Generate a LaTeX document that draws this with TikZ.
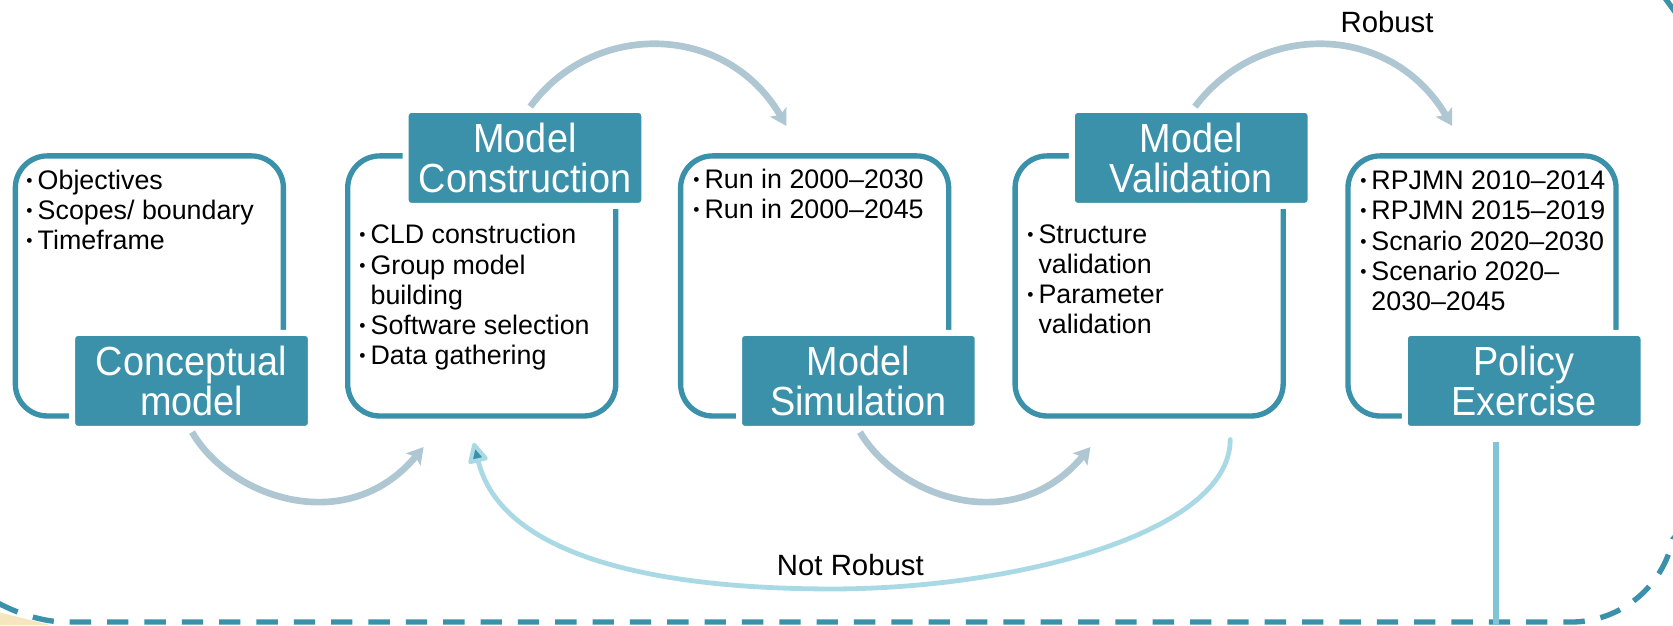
\documentclass[tikz,border=0pt]{standalone}
\usepackage{fontspec}
\setmainfont{Liberation Sans}
\newfontfamily\hdfont[FakeStretch=0.93]{Liberation Sans}
\newfontfamily\cjk{Noto Sans CJK JP}
\usetikzlibrary{arrows.meta}
\definecolor{teal}{HTML}{3B91A9}
\definecolor{arrowgrey}{HTML}{AEC7D2}
\definecolor{arrowlight}{HTML}{A9D9E4}
\definecolor{vline}{HTML}{80C4D6}
\definecolor{tan}{HTML}{F5E6C0}
\newcommand{\bl}{\makebox[10.5pt][l]{\hspace{-4pt}\cjk\fontsize{17}{17}\selectfont ・}}
\newcommand{\ind}{\hspace*{10.5pt}}
\tikzset{
  x=0.8pt,y=-0.8pt,
  panel/.style={draw=teal,line width=4pt,fill=white,rounded corners=24pt,minimum width=201pt,minimum height=195pt,inner sep=0pt},
  head/.style={fill=teal,draw=white,line width=4.5pt,rounded corners=4.5pt,minimum width=179pt,minimum height=72pt,text=white,align=center,inner sep=0pt,font=\hdfont\fontsize{30.5}{30.5}\selectfont},
  body/.style={anchor=north west,align=left,inner sep=0pt,font=\fontsize{20.1}{22.7}\selectfont},
  flow/.style={draw=arrowgrey,line width=5pt,-{Stealth[length=12pt,width=14pt,inset=2.5pt]}},
  label/.style={inner sep=0pt,font=\fontsize{22}{24}\selectfont},
}
\begin{document}
\begin{tikzpicture}
\useasboundingbox (0,0) rectangle (1568,586);
\fill[tan] (0,574) -- (48,586) -- (0,586) -- cycle;
% boxes
\node[panel] (p1) at (140,268) {};
\node[panel] (p2) at (451.5,268) {};
\node[panel] (p3) at (763.5,268) {};
\node[panel] (p4) at (1077,268) {};
\node[panel] (p5) at (1389,268) {};
\node[head] (h1) at (179.5,357) {Conceptual\\model};
\node[head] (h2) at (492,148) {Model\\Construction};
\node[head] (h3) at (804.5,357) {Model\\Simulation};
\node[head] (h4) at (1116.5,148) {Model\\Validation};
\node[head] (h5) at (1428.5,357) {Policy\\Exercise};
% lists
\node[body] (t1) at (22,159) {\bl Objectives\\\bl Scopes/ boundary\\\bl Timeframe};
\node[body] (t2) at (334,210) {\bl CLD construction\\\bl Group model\\\ind building\\\bl Software selection\\\bl Data gathering};
\node[body] (t3) at (647,158) {\bl Run in 2000–2030\\\bl Run in 2000–2045};
\node[body] (t4) at (960,210) {\bl Structure\\\ind validation\\\bl Parameter\\\ind validation};
\node[body] (t5) at (1272,160) {\bl RPJMN 2010–2014\\\bl RPJMN 2015–2019\\\bl Scnario 2020–2030\\\bl Scenario 2020–\\\ind 2030–2045};
% anchors of the free ends
\coordinate (a1s) at (180,405);
\coordinate (a1e) at (397,419);
\coordinate (a2s) at (497,100);
\coordinate (a2e) at (737,118);
\coordinate (a3s) at (806,405);
\coordinate (a3e) at (1022,419);
\coordinate (a4s) at (1120,100);
\coordinate (a4e) at (1361,118);
\coordinate (nrs) at (1153,412);
\coordinate (nre) at (444,415);
\coordinate (vs) at (1402,414);
\coordinate (vb) at (1402,586);
% flow arrows
\draw[flow] (a1s) .. controls (215,466) and (325,505) .. (a1e);
\draw[flow] (a2s) .. controls (555,20) and (680,20) .. (a2e);
\draw[flow] (a3s) .. controls (842,466) and (950,505) .. (a3e);
\draw[flow] (a4s) .. controls (1180,20) and (1303,20) .. (a4e);
% not robust
\draw[draw=arrowlight,line width=3.6pt,line cap=round,-{Stealth[length=17pt,width=16pt,inset=0pt,fill=teal,line width=3pt,round]}] (nrs) .. controls (1153,500) and (950,552) .. (780,552) .. controls (610,552) and (470,520) .. (nre);
\node[label] (nrl) at (797,530) {Not Robust};
\node[label] (rl) at (1300,21) {Robust};
% outer dashed loop
\draw[teal,line width=4pt,dash pattern=on 16pt off 12pt] (-30,545) .. controls (-10,565) and (30,583) .. (62,583) -- (1472,583) arc[start angle=90,end angle=12,radius=98] -- (1600,470);
\draw[teal,line width=4pt] (1556,-8) -- (1572,14);
\draw[vline,line width=4pt] (vs) -- (vb);
\end{tikzpicture}
\end{document}
